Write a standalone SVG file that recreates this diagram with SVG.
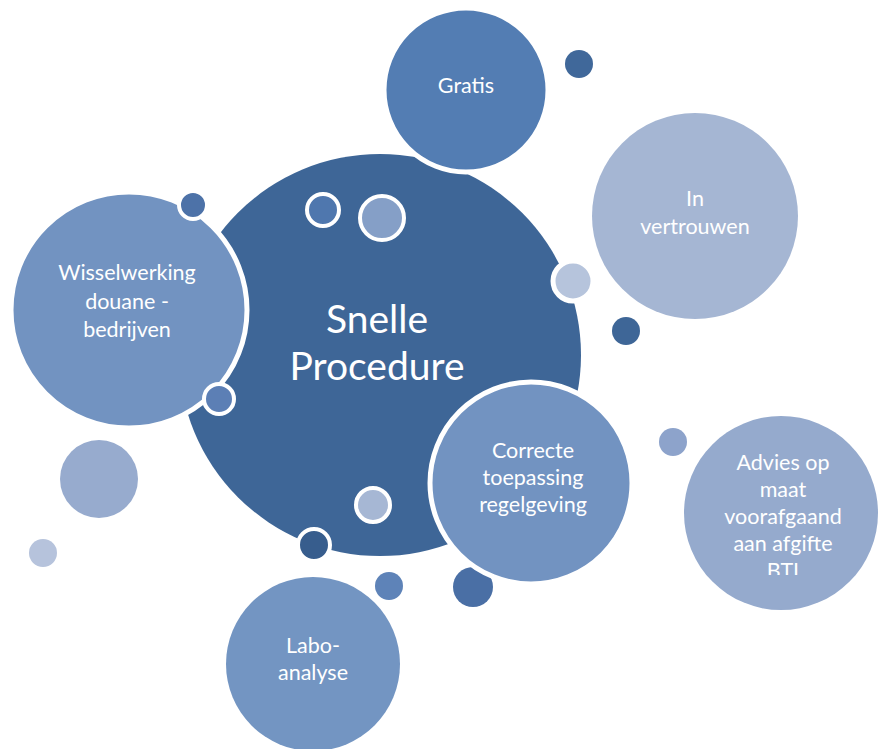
<svg xmlns="http://www.w3.org/2000/svg" width="878" height="749" viewBox="0 0 878 749">
<style>
  .lbl { font-family: Lato, "Open Sans", sans-serif; fill: #ffffff; text-anchor: middle; font-size: 21.5px; }
  .big { font-size: 39px; }
  .ws { stroke: #ffffff; stroke-width: 5; }
  .ws4 { stroke: #ffffff; stroke-width: 4; }
</style>
<defs>
  <clipPath id="advClip"><rect x="600" y="400" width="278" height="175"/></clipPath>
</defs>
<rect width="878" height="749" fill="#ffffff"/>

<g id="deco-back">
  <circle cx="579" cy="64" r="14" fill="#40689A"/>
  <circle cx="626" cy="331" r="14" fill="#3E6697"/>
  <circle cx="99" cy="479" r="39" fill="#97ABCE"/>
  <circle cx="43" cy="553" r="14" fill="#B6C3DC"/>
  <circle cx="673" cy="442" r="14" fill="#8DA3CB"/>
  <circle cx="389" cy="586" r="14" fill="#5E83B8"/>
  <circle cx="473" cy="587" r="20" fill="#4A6FA5"/>
</g>

<g id="node-snelle">
  <circle cx="380" cy="355" r="201" fill="#3E6697"/>
  <text class="lbl big" x="377" y="333">Snelle</text>
  <text class="lbl big" x="377" y="380">Procedure</text>
</g>

<g id="node-gratis">
  <circle cx="466" cy="90" r="82" fill="#537DB3" class="ws"/>
  <text class="lbl" x="466" y="93">Gratis</text>
</g>

<g id="node-vertrouwen">
  <circle cx="695" cy="216" r="103" fill="#A5B6D3"/>
  <text class="lbl" x="695" y="206">In</text>
  <text class="lbl" x="695" y="234">vertrouwen</text>
</g>

<g id="node-wisselwerking">
  <circle cx="129" cy="310" r="118" fill="#7293C1" class="ws"/>
  <text class="lbl" x="127" y="280">Wisselwerking</text>
  <text class="lbl" x="127" y="309">douane -</text>
  <text class="lbl" x="127" y="337">bedrijven</text>
</g>

<g id="node-correcte">
  <circle cx="531" cy="483" r="101" fill="#7293C1" class="ws"/>
  <text class="lbl" x="533" y="458">Correcte</text>
  <text class="lbl" x="533" y="485">toepassing</text>
  <text class="lbl" x="533" y="512">regelgeving</text>
</g>

<g id="node-advies">
  <circle cx="781" cy="513" r="97" fill="#95AACD"/>
  <g clip-path="url(#advClip)">
    <text class="lbl" x="783" y="470">Advies op</text>
    <text class="lbl" x="783" y="497">maat</text>
    <text class="lbl" x="783" y="524">voorafgaand</text>
    <text class="lbl" x="783" y="551">aan afgifte</text>
    <text class="lbl" x="783" y="578">BTI</text>
  </g>
</g>

<g id="node-labo">
  <circle cx="313" cy="664" r="87" fill="#7395C2"/>
  <text class="lbl" x="313" y="653">Labo-</text>
  <text class="lbl" x="313" y="680">analyse</text>
</g>

<g id="deco-front">
  <circle cx="323" cy="210" r="16" fill="#4F77AE" class="ws4"/>
  <circle cx="382" cy="218" r="22" fill="#859FC7" class="ws4"/>
  <circle cx="573" cy="281" r="20" fill="#B6C4DC" class="ws"/>
  <circle cx="193" cy="205" r="14" fill="#4D72A8" class="ws4"/>
  <circle cx="219" cy="399" r="15" fill="#5C7FB5" class="ws4"/>
  <circle cx="373" cy="505" r="17" fill="#A6B7D4" class="ws4"/>
  <circle cx="314" cy="545" r="16" fill="#375D8D" class="ws4"/>
</g>

<g id="connectors"></g>
</svg>
